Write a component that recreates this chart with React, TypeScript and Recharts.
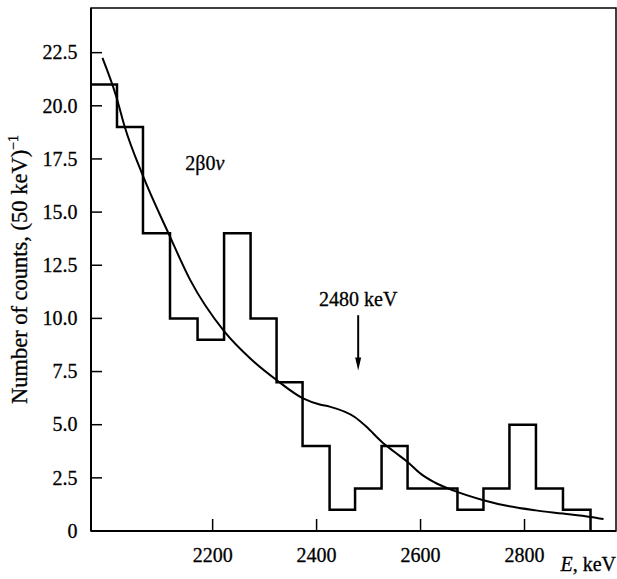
import React from 'react';
import {
  ComposedChart,
  Line,
  XAxis,
  YAxis,
  ReferenceArea,
  ReferenceDot,
  ReferenceLine,
} from 'recharts';

// Histogram: lower edge of each bin (keV) and the counts in it
const binStarts = [1966, 2016, 2066, 2118, 2171, 2222, 2273, 2323, 2373, 2425, 2474, 2525, 2575, 2623, 2671, 2721, 2771, 2822, 2874];
const binCounts = [21, 19, 14, 10, 9, 14, 10, 7, 4, 1, 2, 4, 2, 2, 1, 2, 5, 2, 1];
const lastBinEnd = 2927;

// Smooth fitted spectrum
const fitEnergy = [1988, 2015, 2031, 2066, 2116, 2157, 2222, 2273, 2323, 2373, 2406, 2425, 2474, 2496, 2525, 2548, 2575, 2600, 2626, 2664, 2721, 2771, 2822, 2874, 2927, 2952];
const fitCounts = [22.25, 20.4, 19.0, 16.7, 13.95, 11.8, 9.4, 8.1, 7.1, 6.25, 5.95, 5.85, 5.35, 4.9, 4.2, 3.75, 3.25, 2.7, 2.3, 1.9, 1.45, 1.16, 0.97, 0.82, 0.66, 0.56];

const xTicks = [2200, 2400, 2600, 2800];
const yTicks = [0, 2.5, 5, 7.5, 10, 12.5, 15, 17.5, 20, 22.5];
const xDomain: [number, number] = [1966, 2976];
const yDomain: [number, number] = [0, 24.6];

// Annotations
const peakEnergy = 2480;
const peakArrowFrom = 10.15;
const peakArrowTo = 7.55;
const peakLabel = '2480 keV';
const decayLabelPos = { e: 2185, n: 16.97 };

const histData = [
  ...binStarts.map((e, i) => ({ e, n: binCounts[i] })),
  { e: lastBinEnd, n: 0 },
];
const fitData = fitEnergy.map((e, i) => ({ e, n: fitCounts[i] }));

const FONT = '"Liberation Serif", "Times New Roman", Times, serif';
const INK = '#000';
const textStyle = {
  fontFamily: FONT,
  fontSize: 20,
  fill: INK,
  stroke: INK,
  strokeWidth: 0.3,
} as const;

const YTick = (props: any) => {
  const { x, y, payload } = props;
  const v = payload.value as number;
  return (
    <g>
      <line x1={x} y1={y} x2={x + 11} y2={y} stroke={INK} strokeWidth={1.5} />
      <text x={x - 13.5} y={y} dy={6.8} textAnchor="end" style={textStyle}>
        {v === 0 ? '0' : v.toFixed(1)}
      </text>
    </g>
  );
};

const XTick = (props: any) => {
  const { x, y, payload } = props;
  return (
    <g>
      <line x1={x} y1={y} x2={x} y2={y - 12} stroke={INK} strokeWidth={1.5} />
      <text x={x} y={y + 31} textAnchor="middle" style={textStyle}>
        {payload.value}
      </text>
    </g>
  );
};

const YLabel = (props: any) => {
  const vb = props.viewBox || { x: 0, y: 8, width: 91, height: 523 };
  const cx = 26.5;
  const cy = vb.y + vb.height / 2;
  return (
    <text
      x={cx}
      y={cy}
      transform={`rotate(-90, ${cx}, ${cy})`}
      textAnchor="middle"
      style={{ ...textStyle, fontSize: 22.5 }}
    >
      Number of counts, (50 keV)
      <tspan dy={-9} style={{ fontSize: 14 }}>−1</tspan>
    </text>
  );
};

const XLabel = (props: any) => {
  const vb = props.viewBox || { x: 91, y: 531, width: 525, height: 48 };
  return (
    <text x={vb.x + vb.width} y={vb.y + 39.5} textAnchor="end" style={textStyle}>
      <tspan style={{ fontStyle: 'italic' }}>E</tspan>, keV
    </text>
  );
};

const PeakArrow = (props: any) => {
  const { x1, y1, x2, y2 } = props;
  return (
    <g>
      <line x1={x1} y1={y1} x2={x2} y2={y2 - 10} stroke={INK} strokeWidth={2} />
      <path d={`M${x2 - 3},${y2 - 13} L${x2 + 3},${y2 - 13} L${x2},${y2} Z`} fill={INK} />
      <text x={x1} y={y1 - 9} textAnchor="middle" style={textStyle}>
        {peakLabel}
      </text>
    </g>
  );
};

const DecayLabel = (props: any) => {
  const { cx, cy } = props;
  return (
    <text x={cx} y={cy} textAnchor="middle" style={textStyle}>
      2β0<tspan style={{ fontStyle: 'italic' }}>ν</tspan>
    </text>
  );
};

export default function App() {
  return (
    <div style={{ position: 'absolute', left: 0, top: 0, background: '#fff', fontFamily: FONT }}>
      <ComposedChart
        width={617}
        height={579}
        margin={{ top: 8, right: 1, bottom: 0, left: 0 }}
        style={{ fontFamily: FONT }}
      >
        <XAxis
          dataKey="e"
          type="number"
          domain={xDomain}
          ticks={xTicks}
          allowDataOverflow
          height={48}
          tickSize={0}
          tickMargin={0}
          tickLine={false}
          axisLine={{ stroke: INK, strokeWidth: 2 }}
          tick={<XTick />}
          label={<XLabel />}
        />
        <YAxis
          type="number"
          domain={yDomain}
          ticks={yTicks}
          allowDataOverflow
          width={91}
          tickSize={0}
          tickMargin={0}
          tickLine={false}
          axisLine={{ stroke: INK, strokeWidth: 2 }}
          tick={<YTick />}
          label={<YLabel />}
        />
        <ReferenceArea
          x1={xDomain[0]}
          x2={xDomain[1]}
          y1={yDomain[0]}
          y2={yDomain[1]}
          fill="none"
          fillOpacity={0}
          stroke={INK}
          strokeWidth={1.5}
        />
        <Line
          data={histData}
          dataKey="n"
          type="stepAfter"
          stroke={INK}
          strokeWidth={2.5}
          dot={false}
          activeDot={false}
          isAnimationActive={false}
        />
        <Line
          data={fitData}
          dataKey="n"
          type="monotone"
          stroke={INK}
          strokeWidth={2}
          dot={false}
          activeDot={false}
          isAnimationActive={false}
        />
        <ReferenceLine
          segment={[
            { x: peakEnergy, y: peakArrowFrom },
            { x: peakEnergy, y: peakArrowTo },
          ]}
          shape={<PeakArrow />}
        />
        <ReferenceDot x={decayLabelPos.e} y={decayLabelPos.n} r={0} shape={<DecayLabel />} />
      </ComposedChart>
    </div>
  );
}
